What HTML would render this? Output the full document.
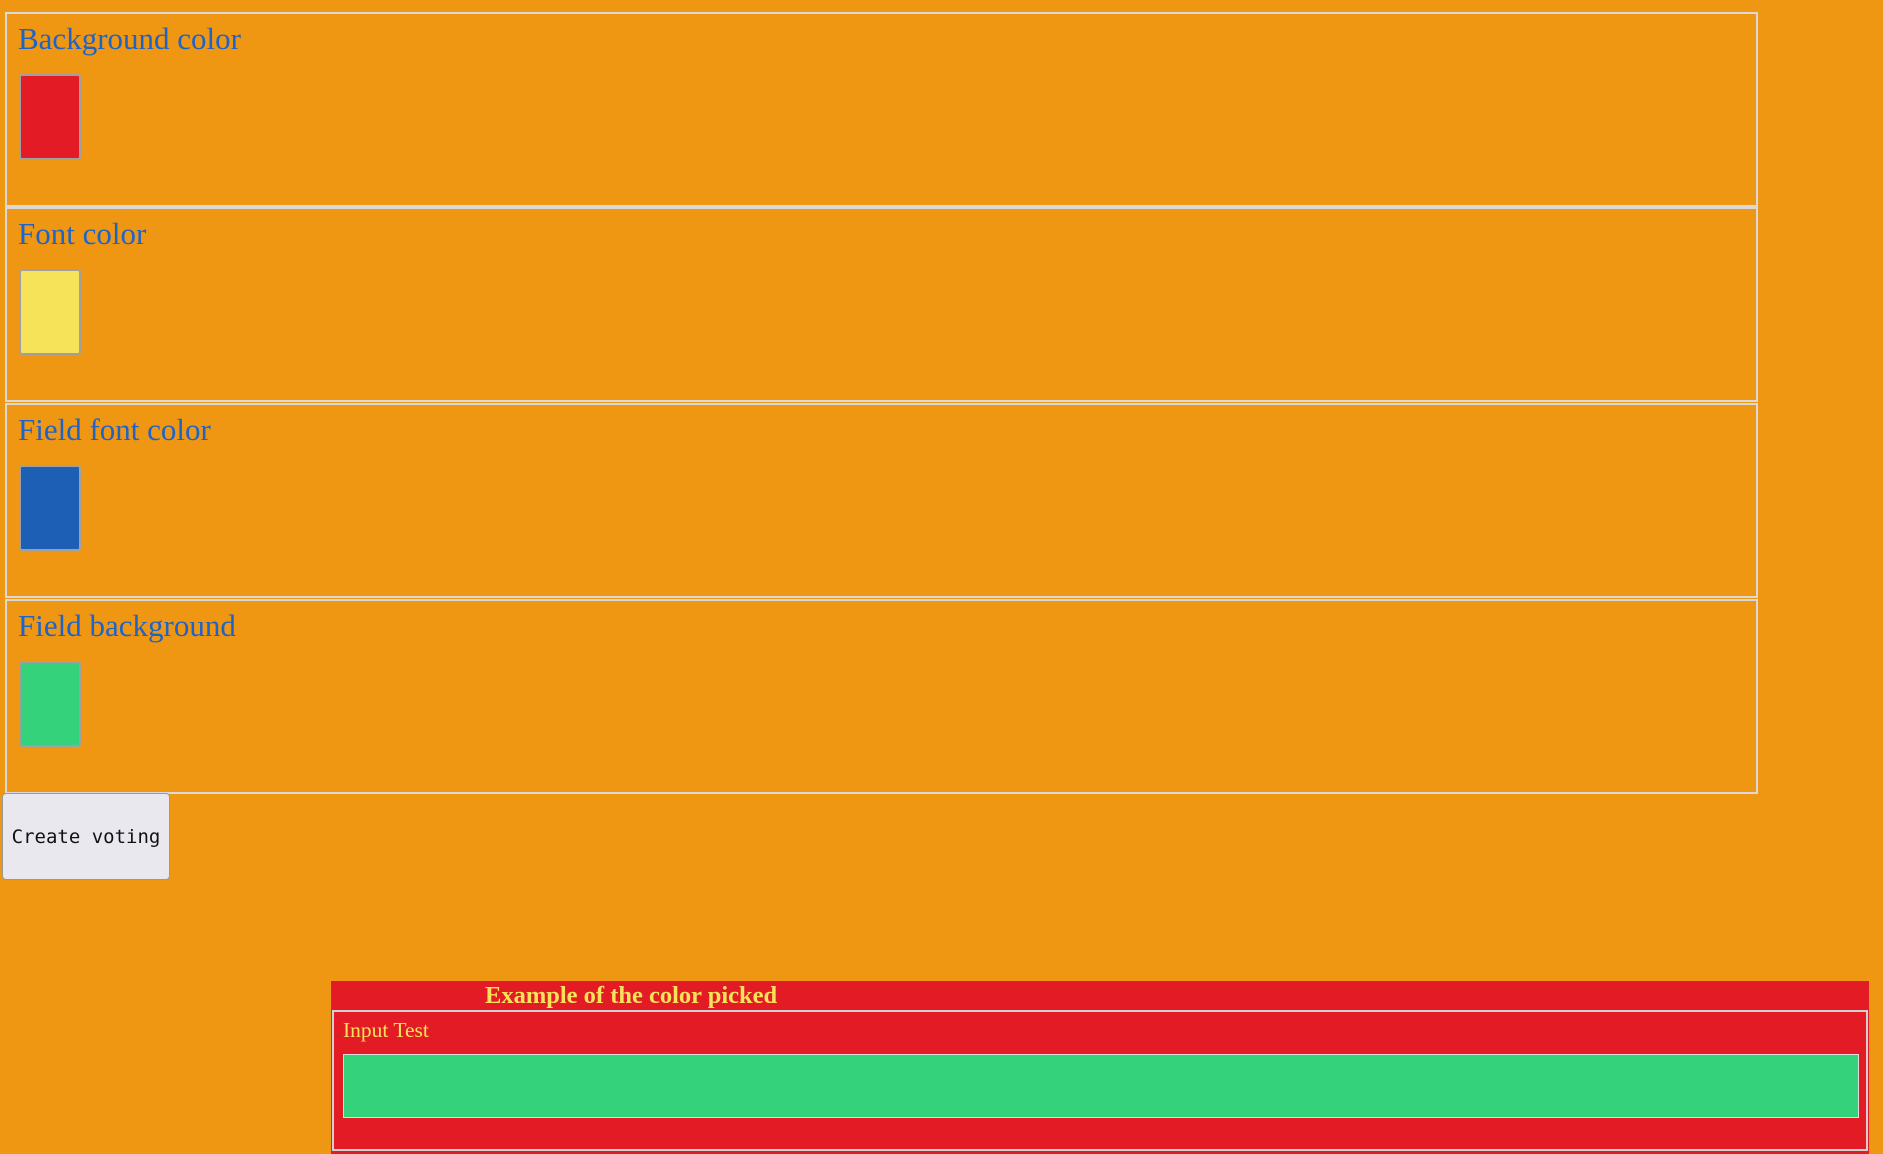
<!DOCTYPE html>
<html><head><style>
body{margin:0;width:1883px;height:1154px;background:#ef9612;position:relative;overflow:hidden;font-family:"Liberation Serif",serif}
.sec{position:absolute;left:5px;width:1753px;border:2px solid #d9d9d9;box-sizing:border-box;height:195px}
.sec h2{position:absolute;left:11px;top:7px;margin:0;font-weight:normal;font-size:31px;color:#1e64c8}
.sw{position:absolute;left:12px;top:60px;width:62px;height:86px;border:2px solid #a0a0a0;border-radius:3px;box-sizing:border-box}
</style></head><body>
<div class="sec" style="top:12px"><h2>Background color</h2><div class="sw" style="background:#e21b25"></div></div>
<div class="sec" style="top:207px"><h2>Font color</h2><div class="sw" style="background:#f7e35a"></div></div>
<div class="sec" style="top:403px"><h2>Field font color</h2><div class="sw" style="background:#1c5fb5"></div></div>
<div class="sec" style="top:599px"><h2>Field background</h2><div class="sw" style="background:#34d27a"></div></div>
<div style="position:absolute;left:2px;top:793px;width:168px;height:87px;box-sizing:border-box;background:#e9e8ee;border:1px solid #999;border-radius:4px;font-family:'DejaVu Sans Mono','Liberation Mono',monospace;font-size:19px;color:#111;line-height:87px;text-align:center">Create voting</div>
<div style="position:absolute;left:331px;top:981px;width:1538px;height:173px;background:#e21b25">
<div style="position:absolute;left:154px;top:1px;font-weight:bold;font-size:24.5px;color:#f7e35a">Example of the color picked</div>
<div style="position:absolute;left:1px;top:29px;width:1536px;height:141px;border:2px solid #d0d0d0;box-sizing:border-box">
<div style="position:absolute;left:9px;top:6px;font-size:21.5px;color:#f7e35a">Input Test</div>
<div style="position:absolute;left:9px;top:42px;width:1516px;height:64px;background:#34d27a;border:1px solid #ddd;box-sizing:border-box"></div>
</div></div>
</body></html>
